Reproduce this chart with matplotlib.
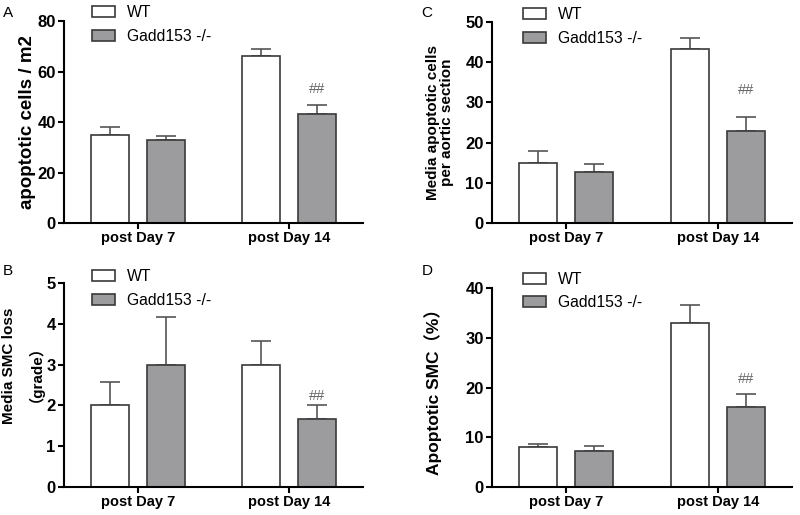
import matplotlib
matplotlib.use("Agg")
import matplotlib.pyplot as plt
import numpy as np

plt.rcParams['font.family'] = ['Liberation Sans', 'Noto Sans CJK SC', 'DejaVu Sans']

groups = ["post Day 7", "post Day 14"]
series = ["WT", "Gadd153 -/-"]

# panel A
a_wt = [35, 66]
a_wt_err = [3, 3]
a_ko = [32.7, 43]
a_ko_err = [1.8, 3.7]

# panel C
c_wt = [15, 43.3]
c_wt_err = [3, 2.8]
c_ko = [12.6, 23]
c_ko_err = [2, 3.5]

# panel B
b_wt = [2.0, 3.0]
b_wt_err = [0.58, 0.58]
b_ko = [3.0, 1.67]
b_ko_err = [1.16, 0.34]

# panel D
d_wt = [8.1, 33]
d_wt_err = [0.6, 3.6]
d_ko = [7.1, 16.1]
d_ko_err = [1.2, 2.5]

ko_color = "#9c9c9e"
edge = "#3a3a3a"

fig = plt.figure(figsize=(8, 5.15), dpi=100)

def panel(rect, wt, wt_err, ko, ko_err, ymax, step, ylabel, lab_size, lab_xy,
          letter, letter_xy, mark_y, leg_xy):
    ax = fig.add_axes(rect)
    x = np.arange(len(groups))
    w = 0.252
    off = 0.185
    ax.bar(x - off, wt, w, color="white", edgecolor=edge, linewidth=1.2, label=series[0], zorder=2)
    ax.bar(x + off, ko, w, color=ko_color, edgecolor=edge, linewidth=1.2, label=series[1], zorder=2)
    ax.errorbar(x - off, wt, yerr=[np.zeros(len(wt)), wt_err], fmt="none",
                ecolor="#555555", elinewidth=1.2, capsize=7, capthick=1.2, zorder=1)
    ax.errorbar(x + off, ko, yerr=[np.zeros(len(ko)), ko_err], fmt="none",
                ecolor="#555555", elinewidth=1.2, capsize=7, capthick=1.2, zorder=1)
    ax.text(x[1] + off, mark_y, "##", ha="center", va="center", fontsize=10.5, color="#666666")
    ax.set_xlim(-0.49, 1.49)
    ax.set_ylim(0, ymax)
    ax.set_yticks(np.arange(0, ymax + step / 2, step))
    ax.set_xticks(x)
    ax.set_xticklabels(groups, fontsize=10.5, fontweight="bold")
    for t in ax.get_yticklabels():
        t.set_fontweight("bold")
        t.set_fontsize(12)
    ax.spines["top"].set_visible(False)
    ax.spines["right"].set_visible(False)
    ax.spines["left"].set_linewidth(1.5)
    ax.spines["bottom"].set_linewidth(1.5)
    ax.tick_params(width=1.5, length=4, pad=2)
    ax.set_ylabel(ylabel, fontsize=lab_size, fontweight="bold", linespacing=1.0)
    ax.yaxis.set_label_coords(*lab_xy)
    ax.legend(loc="upper left", bbox_to_anchor=leg_xy, frameon=False, fontsize=11.3,
              handlelength=1.46, handleheight=0.7, handletextpad=0.75, labelspacing=0.55,
              borderaxespad=0, borderpad=0)
    fig.text(letter_xy[0], letter_xy[1], letter, fontsize=11, ha="left", va="center")
    return ax

panel([0.08, 0.567, 0.374, 0.392], a_wt, a_wt_err, a_ko, a_ko_err, 80, 20,
      "apoptotic cells / m2", 13.5, (-0.094, 0.5), "A", (0.004, 0.975), 53, (0.094, 1.08))
panel([0.615, 0.567, 0.375, 0.39], c_wt, c_wt_err, c_ko, c_ko_err, 50, 10,
      "Media apoptotic cells\nper aortic section", 11, (-0.128, 0.5), "C", (0.527, 0.975), 33,
      (0.103, 1.075))
axb = panel([0.08, 0.055, 0.374, 0.395], b_wt, b_wt_err, b_ko, b_ko_err, 5, 1,
            "Media SMC loss", 11, (-0.16, 0.595), "B", (0.004, 0.473), 2.22, (0.094, 1.07))
axb.text(-0.12, 0.595, "（grade）", transform=axb.transAxes, rotation=90,
         ha="center", va="center", fontsize=11, fontweight="bold")
panel([0.615, 0.055, 0.375, 0.385], d_wt, d_wt_err, d_ko, d_ko_err, 40, 10,
      "Apoptotic SMC（%）", 12.5, (-0.167, 0.5), "D", (0.527, 0.473), 21.8, (0.103, 1.085))

fig.savefig("out.png", dpi=100)
